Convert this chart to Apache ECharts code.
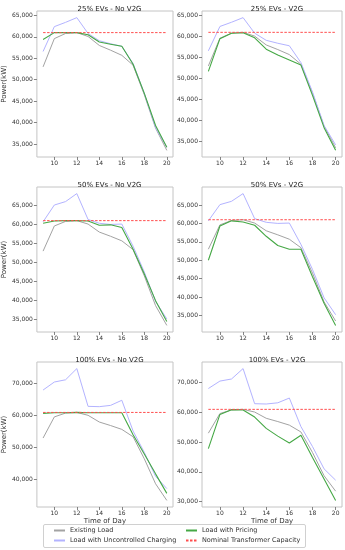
<!DOCTYPE html>
<html><head><meta charset="utf-8">
<script src="https://cdn.jsdelivr.net/npm/echarts@6/dist/echarts.min.js"></script>
<style>html,body{margin:0;padding:0;background:#fff}#c{width:345px;height:550px}</style>
</head><body><div id="c"></div>
<script>
var hours = [9,10,11,12,13,14,15,16,17,18,19,20];
var xTicks = [10,12,14,16,18,20];
var existingLoad = [53000,59600,60800,61000,60100,58000,56900,55700,53400,46500,38700,33500];
var uncontrolled25 = [56600,62400,63400,64500,60800,59100,58400,57800,53800,46800,38800,34200];
var pricing25 = [59400,61000,61000,61000,60500,58800,58300,57800,53600,46800,39300,34200];
var pricing25V2G = [51700,59500,60800,60900,59700,57000,55600,54400,53200,46000,38300,32900];
var uncontrolled50 = [60700,65100,66000,68100,61300,60300,60000,60100,54300,47500,39800,35200];
var pricing50 = [60300,60900,61000,61000,60900,59800,59900,59200,53500,47000,40000,34500];
var pricing50V2G = [50000,59300,60700,60400,59500,56500,54000,53000,53000,45500,38300,32300];
var uncontrolled100 = [68000,70500,71200,74700,62900,62800,63200,64800,55200,48500,41000,37200];
var pricing100 = [60700,60900,60900,61000,60900,60900,60900,60900,54000,48000,41800,35700];
var pricing100V2G = [47800,59300,60900,60800,58400,54600,52000,49700,52300,44800,37600,30400];
var capacity = 61000;
var titles = ['25% EVs - No V2G','25% EVs - V2G','50% EVs - No V2G','50% EVs - V2G','100% EVs - No V2G','100% EVs - V2G'];
var yTicksA = [35000,40000,45000,50000,55000,60000,65000];
var yTicksB = [40000,50000,60000,70000];
var yTicksC = [30000,40000,50000,60000,70000];

var panels = [
  {unc: uncontrolled25, pr: pricing25, ticks: yTicksA},
  {unc: uncontrolled25, pr: pricing25V2G, ticks: yTicksA},
  {unc: uncontrolled50, pr: pricing50, ticks: yTicksA},
  {unc: uncontrolled50, pr: pricing50V2G, ticks: yTicksA},
  {unc: uncontrolled100, pr: pricing100, ticks: yTicksB},
  {unc: uncontrolled100, pr: pricing100V2G, ticks: yTicksC}
];
var colLeft = [36, 202], colWidth = [137, 140];
var rowTop = [11, 187, 362], rowHeight = [146, 145, 145];
var FONT = 'DejaVu Sans';
var C_EX = '#a3a3a3', C_UN = '#b3b3ff', C_PR = '#45a845', C_CAP = '#ff4d4d';

function pts(arr){ return hours.map(function(h,i){ return [h, arr[i]]; }); }
function fmt(v){ return String(v).replace(/\B(?=(\d{3})+(?!\d))/g, ','); }

var grids=[], xAxes=[], yAxes=[], series=[], titleArr=[];
panels.forEach(function(p, k){
  var r = Math.floor(k/2), c = k%2;
  grids.push({left: colLeft[c], top: rowTop[r], width: colWidth[c], height: rowHeight[r],
    show: true, borderColor: '#c4c4c4', borderWidth: 1, backgroundColor: '#fff'});
  var all = existingLoad.concat(p.unc, p.pr, [capacity]);
  var mn = Math.min.apply(null, all), mx = Math.max.apply(null, all);
  var pad = (mx - mn) * 0.05;
  var xs = hours[0], xe = hours[hours.length-1], xp = (xe - xs) * 0.05;
  xAxes.push({type: 'value', gridIndex: k, min: xs - xp, max: xe + xp,
    splitLine: {show: false}, axisLine: {show: false},
    axisTick: {show: true, length: 3, customValues: xTicks, lineStyle: {color: '#666', width: 0.8}},
    axisLabel: {customValues: xTicks, fontSize: 6, fontFamily: FONT, color: '#333', margin: 3},
    name: r === 2 ? 'Time of Day' : '', nameLocation: 'middle', nameGap: 11,
    nameTextStyle: {fontSize: 7, fontFamily: FONT, color: '#333'}});
  yAxes.push({type: 'value', gridIndex: k, min: mn - pad, max: mx + pad,
    splitLine: {show: false}, axisLine: {show: false},
    axisTick: {show: true, length: 3, customValues: p.ticks, lineStyle: {color: '#666', width: 0.8}},
    axisLabel: {customValues: p.ticks, fontSize: 6, fontFamily: FONT, color: '#333', margin: 4, formatter: function(v){ return fmt(v); }},
    name: c === 0 ? 'Power(kW)' : '', nameLocation: 'middle', nameGap: 25,
    nameTextStyle: {fontSize: 7, fontFamily: FONT, color: '#333'}});
  titleArr.push({text: titles[k], left: colLeft[c] + colWidth[c]/2, top: rowTop[r] - 10, textAlign: 'center',
    textStyle: {fontSize: 7, fontWeight: 'normal', fontFamily: FONT, color: '#222'}});
  var common = {type: 'line', xAxisIndex: k, yAxisIndex: k, symbol: 'none', animation: false, silent: true};
  series.push(Object.assign({name: 'Existing Load', data: pts(existingLoad), lineStyle: {color: C_EX, width: 1}, itemStyle: {color: C_EX}, z: 2}, common));
  series.push(Object.assign({name: 'Load with Uncontrolled Charging', data: pts(p.unc), lineStyle: {color: C_UN, width: 1}, itemStyle: {color: C_UN}, z: 3}, common));
  series.push(Object.assign({name: 'Load with Pricing', data: pts(p.pr), lineStyle: {color: C_PR, width: 1.1}, itemStyle: {color: C_PR}, z: 4}, common));
  series.push(Object.assign({name: 'Nominal Transformer Capacity', data: [[hours[0], capacity], [hours[hours.length-1], capacity]], lineStyle: {color: C_CAP, width: 1, type: [2.5, 1.5]}, itemStyle: {color: C_CAP}, z: 5}, common));
});

var legendText = {fontSize: 6.5, fontFamily: FONT, color: '#333'};
var legendBase = {orient: 'vertical', top: 527, itemWidth: 11, itemHeight: 7, itemGap: 3, padding: 0,
  itemStyle: {opacity: 0}, textStyle: legendText, selectedMode: false};
var chart = echarts.init(document.getElementById('c'), null, {renderer: 'canvas'});
chart.setOption({
  backgroundColor: '#fff',
  animation: false,
  title: titleArr,
  grid: grids, xAxis: xAxes, yAxis: yAxes, series: series,
  legend: [
    Object.assign({left: 53, data: ['Existing Load', 'Load with Uncontrolled Charging']}, legendBase),
    Object.assign({left: 185, data: ['Load with Pricing', 'Nominal Transformer Capacity']}, legendBase)
  ],
  graphic: [{type: 'rect', shape: {x: 43.5, y: 524.5, width: 262, height: 23, r: 1.5},
    style: {fill: 'none', stroke: '#d0d0d0', lineWidth: 1}, z: -1}]
});
</script></body></html>
